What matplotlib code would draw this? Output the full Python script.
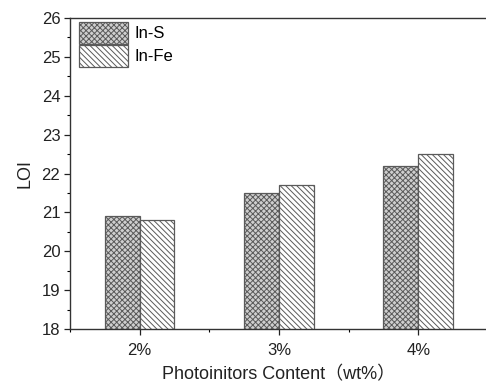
import matplotlib
matplotlib.use("Agg")
import matplotlib.pyplot as plt
import numpy as np
from matplotlib.ticker import MultipleLocator

plt.rcParams['font.family'] = ['Liberation Sans', 'Noto Sans CJK SC', 'DejaVu Sans']
plt.rcParams['hatch.linewidth'] = 0.7

categories = ['2%', '3%', '4%']
in_s = [20.9, 21.5, 22.2]
in_fe = [20.8, 21.7, 22.5]

fig = plt.figure(figsize=(4.86, 3.86), dpi=100)
ax = fig.add_axes([70/486, 57/386, 418/486, 311/386])

x = np.array([2, 3, 4])
w = 0.25
ax.bar(x - w/2, in_s, width=w, bottom=0, facecolor='#cfcfcf', edgecolor='#5a5a5a',
       hatch='xxxxxx', linewidth=0.9, label='In-S')
ax.bar(x + w/2, in_fe, width=w, bottom=0, facecolor='white', edgecolor='#5a5a5a',
       hatch='\\\\\\\\\\\\', linewidth=0.9, label='In-Fe')

ax.set_xlim(1.5, 4.5)
ax.set_ylim(18, 26)
ax.set_xticks(x)
ax.set_xticklabels(categories)
ax.xaxis.set_minor_locator(MultipleLocator(0.5))
ax.yaxis.set_major_locator(MultipleLocator(1))
ax.yaxis.set_minor_locator(MultipleLocator(0.5))
ax.tick_params(which='major', direction='out', length=4, width=0.9, labelsize=12, colors='#222222')
ax.tick_params(which='minor', direction='out', length=2, width=0.8)
ax.tick_params(axis='x', which='major', pad=6)
ax.tick_params(axis='y', which='major', pad=3)
for s in ax.spines.values():
    s.set_linewidth(1.0)
    s.set_color('#333333')

ax.set_xlabel('Photoinitors Content\uff08wt%\uff09', fontsize=13, labelpad=6, color='#222222')
ax.set_ylabel('LOI', fontsize=13, labelpad=6, color='#222222')

ax.legend(loc='upper left', frameon=False, handlelength=2.9, handleheight=1.6,
          fontsize=12, borderaxespad=0.1, labelspacing=0.1, handletextpad=0.4,
          borderpad=0.15, bbox_to_anchor=(0.012, 1.0))

fig.savefig('out.png', dpi=100)
